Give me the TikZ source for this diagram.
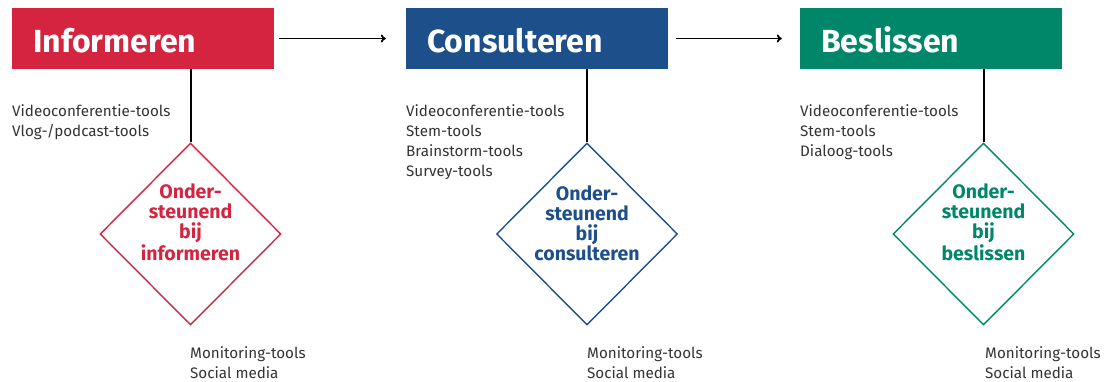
\documentclass[tikz,border=0pt]{standalone}
\usepackage{fontspec}
\setmainfont{Fira Sans}
\usetikzlibrary{shapes.geometric,arrows.meta}
\definecolor{cred}{HTML}{D4243F}
\definecolor{cblue}{HTML}{1D4F8B}
\definecolor{cgreen}{HTML}{00876A}
\definecolor{ctext}{HTML}{333333}
\begin{document}
\begin{tikzpicture}[x=1pt,y=-1pt,
  phase/.style={draw=none,fill=#1,minimum width=262pt,minimum height=61pt,inner sep=0pt},
  title/.style={anchor=base west,inner sep=0pt,text=white,font=\fontsize{32}{32}\selectfont\bfseries},
  dia/.style={diamond,draw=#1,line width=1.4pt,minimum width=181pt,minimum height=182pt,inner sep=0pt},
  diatext/.style={anchor=base,inner sep=0pt,text=#1,align=center,font=\fontsize{19.5}{20}\selectfont\bfseries},
  tools/.style={anchor=base west,inner sep=0pt,text=ctext,align=left,font=\fontsize{15.2}{20}\selectfont},
  stem/.style={line width=2pt,black},
  flow/.style={line width=1.8pt,black,-{To[length=5pt,width=8pt]}}
]
\useasboundingbox (0,0) rectangle (1109,381);
% boxes
\node[phase=cred] (b1) at (143,38.5) {};
\node[phase=cblue] (b2) at (537,38.5) {};
\node[phase=cgreen] (b3) at (931,38.5) {};
\node[title] (t1) at (33,52) {Informeren};
\node[title] (t2) at (427,52) {Consulteren};
\node[title] (t3) at (821,52) {Beslissen};
% arrows
\draw[flow] ([xshift=5pt]b1.east) -- ([xshift=-20pt]b2.west);
\draw[flow] ([xshift=8pt]b2.east) -- ([xshift=-18pt]b3.west);
% diamonds
\node[dia=cred] (d1) at (190.5,234) {};
\node[dia=cblue] (d2) at (587,234) {};
\node[dia=cgreen] (d3) at (983.5,234) {};
\draw[stem] (b1.south -| d1.north) -- (d1.north);
\draw[stem] (b2.south -| d2.north) -- (d2.north);
\draw[stem] (b3.south -| d3.north) -- (d3.north);
% (multi-line nodes: base = baseline of last line)
\node[diatext=cred] (dt1) at (190.5,260) {Onder-\\steunend\\bij\\informeren};
\node[diatext=cblue] (dt2) at (587,260) {Onder-\\steunend\\bij\\consulteren};
\node[diatext=cgreen] (dt3) at (983.5,260) {Onder-\\steunend\\bij\\beslissen};
% tool lists
\node[tools] (l1) at (12,136) {Videoconferentie-tools\\Vlog-/podcast-tools};
\node[tools] (l2) at (406,176) {Videoconferentie-tools\\Stem-tools\\Brainstorm-tools\\Survey-tools};
\node[tools] (l3) at (800,156) {Videoconferentie-tools\\Stem-tools\\Dialoog-tools};
\node[tools] (m1) at (190,378) {Monitoring-tools\\Social media};
\node[tools] (m2) at (587,378) {Monitoring-tools\\Social media};
\node[tools] (m3) at (985,378) {Monitoring-tools\\Social media};
\end{tikzpicture}
\end{document}
